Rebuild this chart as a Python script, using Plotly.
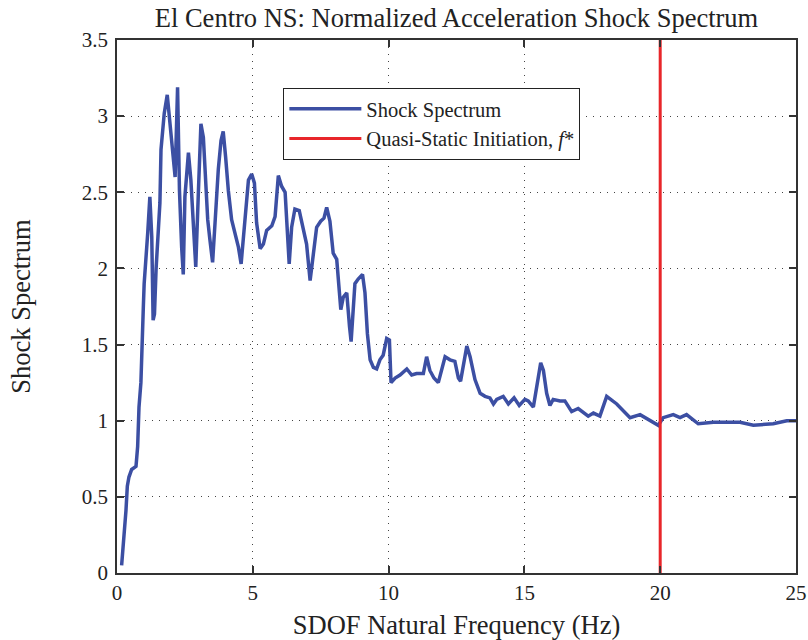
import plotly.graph_objects as go

freq = [0.17, 0.21, 0.27, 0.33, 0.38, 0.44, 0.54, 0.70, 0.76, 0.81, 0.88, 0.93, 0.97, 1.00,
        1.03, 1.13, 1.21, 1.28, 1.33, 1.38, 1.44, 1.50, 1.58, 1.62, 1.74, 1.85, 1.95, 2.04,
        2.14, 2.23, 2.30, 2.38, 2.44, 2.50, 2.63, 2.72, 2.81, 2.90, 2.99, 3.09, 3.18, 3.24,
        3.34, 3.42, 3.52, 3.61, 3.73, 3.83, 3.91, 4.00, 4.10, 4.22, 4.34, 4.47, 4.57, 4.65,
        4.74, 4.84, 4.96, 5.06, 5.14, 5.27, 5.39, 5.51, 5.70, 5.82, 5.94, 6.06, 6.19, 6.27,
        6.34, 6.43, 6.55, 6.71, 6.86, 6.98, 7.11, 7.23, 7.35, 7.50, 7.62, 7.72, 7.84, 7.96,
        8.09, 8.19, 8.24, 8.33, 8.46, 8.56, 8.62, 8.76, 8.88, 9.04, 9.13, 9.22, 9.32, 9.44,
        9.56, 9.68, 9.80, 9.93, 10.03, 10.09, 10.24, 10.42, 10.67, 10.85, 11.03, 11.28,
        11.40, 11.52, 11.67, 11.83, 11.96, 12.08, 12.26, 12.44, 12.57, 12.65, 12.88, 13.00,
        13.18, 13.37, 13.55, 13.73, 13.86, 13.98, 14.22, 14.41, 14.62, 14.81, 15.02, 15.14,
        15.33, 15.45, 15.60, 15.70, 15.82, 15.94, 16.06, 16.31, 16.49, 16.74, 16.98, 17.35,
        17.54, 17.78, 18.03, 18.40, 18.89, 19.26, 19.62, 19.93, 20.11, 20.48, 20.73, 20.97,
        21.40, 21.96, 22.45, 22.94, 23.43, 24.16, 24.66, 25.00]
spectrum = [0.05, 0.13, 0.26, 0.41, 0.57, 0.63, 0.68, 0.70, 0.83, 1.09, 1.25, 1.46, 1.75, 1.90,
            1.97, 2.23, 2.47, 2.21, 1.66, 1.70, 2.00, 2.19, 2.43, 2.78, 3.02, 3.14, 2.95, 2.73,
            2.60, 3.19, 2.51, 2.14, 1.96, 2.47, 2.76, 2.58, 2.32, 2.01, 2.47, 2.95, 2.86, 2.62,
            2.32, 2.19, 2.04, 2.30, 2.65, 2.84, 2.90, 2.73, 2.51, 2.32, 2.23, 2.14, 2.03, 2.19,
            2.40, 2.58, 2.62, 2.56, 2.30, 2.13, 2.16, 2.25, 2.28, 2.34, 2.61, 2.54, 2.50, 2.21,
            2.03, 2.27, 2.39, 2.38, 2.25, 2.16, 1.92, 2.08, 2.27, 2.31, 2.33, 2.40, 2.31, 2.10,
            2.06, 1.84, 1.73, 1.81, 1.84, 1.62, 1.52, 1.90, 1.93, 1.96, 1.84, 1.57, 1.40, 1.35,
            1.34, 1.40, 1.43, 1.54, 1.53, 1.25, 1.28, 1.30, 1.34, 1.30, 1.31, 1.31,
            1.42, 1.33, 1.28, 1.25, 1.35, 1.42, 1.40, 1.39, 1.28, 1.26, 1.49, 1.42,
            1.27, 1.18, 1.16, 1.15, 1.11, 1.14, 1.16, 1.11, 1.15, 1.10, 1.14, 1.13,
            1.09, 1.22, 1.38, 1.33, 1.18, 1.10, 1.14, 1.13, 1.13, 1.06, 1.08, 1.03,
            1.05, 1.03, 1.16, 1.11, 1.02, 1.04, 1.00, 0.97, 1.02, 1.04, 1.02, 1.04,
            0.98, 0.99, 0.99, 0.99, 0.97, 0.98, 1.00, 1.00]
f_star = 20
y_span = [0, 3.5]

x_ticks = [0, 5, 10, 15, 20, 25]
y_ticks = [0, 0.5, 1, 1.5, 2, 2.5, 3, 3.5]
y_tick_text = ["0", "0.5", "1", "1.5", "2", "2.5", "3", "3.5"]

FONT = "Liberation Serif, Times New Roman, serif"

fig = go.Figure()
fig.add_trace(go.Scatter(x=freq, y=spectrum, mode="lines", name="Shock Spectrum",
                         line=dict(color="#3c4fa3", width=3.5)))
fig.add_trace(go.Scatter(x=[f_star, f_star], y=y_span, mode="lines",
                         name="Quasi-Static Initiation, <i>f</i>*",
                         line=dict(color="#e8262a", width=3)))

axis_common = dict(showline=True, linecolor="#333", linewidth=1.5, mirror="ticks",
                   ticks="inside", ticklen=7, tickcolor="#333", tickwidth=1.5,
                   showgrid=True, gridcolor="#444", gridwidth=1, griddash="1px,6px",
                   zeroline=False, automargin=False,
                   tickfont=dict(family=FONT, size=21, color="#222"))

fig.update_xaxes(range=[0, 25], tickvals=x_ticks, ticklabelstandoff=0,
                 title=dict(text="SDOF Natural Frequency (Hz)",
                            font=dict(family=FONT, size=26.5, color="#222"), standoff=18),
                 **axis_common)
fig.update_yaxes(range=[0, 3.5], tickvals=y_ticks, ticktext=y_tick_text, ticklabelstandoff=3,
                 title=dict(text="Shock Spectrum",
                            font=dict(family=FONT, size=26.5, color="#222"), standoff=44),
                 **axis_common)

fig.update_layout(
    width=808, height=640,
    margin=dict(l=117, r=12, t=40, b=67),
    paper_bgcolor="white", plot_bgcolor="white",
    title=dict(text="El Centro NS: Normalized Acceleration Shock Spectrum",
               font=dict(family=FONT, size=26.5, color="#222"),
               x=0.5, xref="paper", xanchor="center", y=0.972, yanchor="middle"),
    legend=dict(x=0.245, y=0.91, xanchor="left", yanchor="top",
                bordercolor="#222", borderwidth=1, bgcolor="white",
                font=dict(family=FONT, size=20.5, color="#222"),
                itemwidth=72, tracegroupgap=0),
    showlegend=True,
)

fig.write_html("out.html")
